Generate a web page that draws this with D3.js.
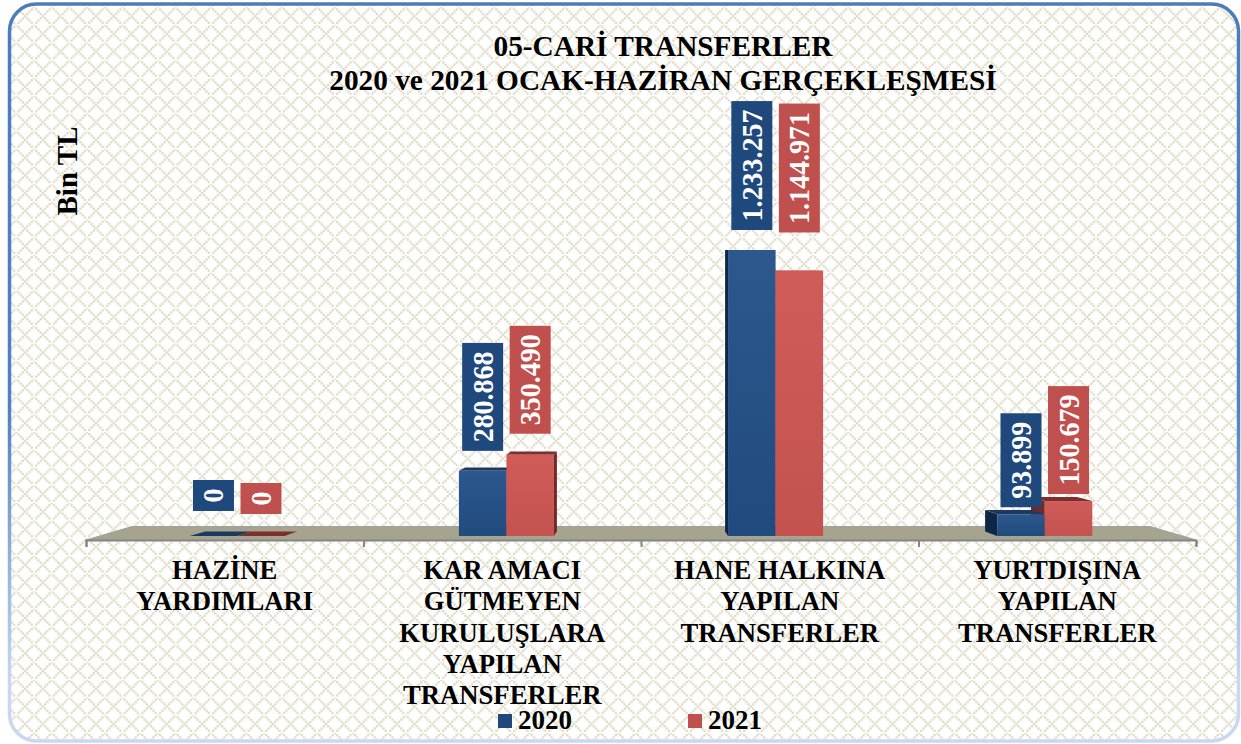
<!DOCTYPE html>
<html>
<head>
<meta charset="utf-8">
<script src="https://cdnjs.cloudflare.com/ajax/libs/d3/7.8.5/d3.min.js"></script>
<style>
html, body { margin: 0; padding: 0; background: #fff; overflow: hidden; }
svg { display: block; }
text { font-family: "Liberation Serif", "Times New Roman", serif; font-weight: bold; fill: #000; }
</style>
</head>
<body>
<script>
//Chart data
var categories = ["HAZİNE YARDIMLARI", "KAR AMACI GÜTMEYEN KURULUŞLARA YAPILAN TRANSFERLER", "HANE HALKINA YAPILAN TRANSFERLER", "YURTDIŞINA YAPILAN TRANSFERLER"];
var categoryLines = [
    ["HAZİNE", "YARDIMLARI"],
    ["KAR AMACI", "GÜTMEYEN", "KURULUŞLARA", "YAPILAN", "TRANSFERLER"],
    ["HANE HALKINA", "YAPILAN", "TRANSFERLER"],
    ["YURTDIŞINA", "YAPILAN", "TRANSFERLER"]
];
var seriesNames = ["2020", "2021"];
var values2020 = [0, 280868, 1233257, 93899];
var values2021 = [0, 350490, 1144971, 150679];
var titleLines = ["05-CARİ TRANSFERLER", "2020 ve 2021 OCAK-HAZİRAN GERÇEKLEŞMESİ"];
var axisTitle = "Bin TL";

//Hand placed gap between bar top and its label box, like the original
var labelGap2020 = [25, 20, 20, 7];
var labelGap2021 = [22, 21, 38, 7];

var width = 1241, height = 744;
var colors = {
    "2020": {top: "#1c3a60", side: "#0f2747", light: "#2d588d", dark: "#214b7f", box: "#1f497d"},
    "2021": {top: "#7d2f2d", side: "#6f2a28", light: "#cf5c58", dark: "#c4524f", box: "#c0504d"}
};

var svg = d3.select("body").append("svg")
    .attr("width", width)
    .attr("height", height);
var defs = svg.append("defs");

//Lattice background, stair stepped dots along both diagonals
var tile = 17.7;
var pattern = defs.append("pattern")
    .attr("id", "lattice")
    .attr("patternUnits", "userSpaceOnUse")
    .attr("x", 16.3).attr("y", 7.3)
    .attr("width", tile).attr("height", tile);
pattern.append("rect").attr("width", tile).attr("height", tile).attr("fill", "#fff");
d3.range(0, tile, tile / 8).forEach(function(p) {
    pattern.append("rect").attr("x", p - 1.1).attr("y", p - 1.1).attr("width", 2.2).attr("height", 2.2).attr("fill", "#dcd8c3");
    pattern.append("rect").attr("x", tile - p - 1.1).attr("y", p - 1.1).attr("width", 2.2).attr("height", 2.2).attr("fill", "#dcd8c3");
});

seriesNames.forEach(function(s) {
    var g = defs.append("linearGradient")
        .attr("id", "front" + s)
        .attr("x1", 0).attr("y1", 0).attr("x2", 0).attr("y2", 1);
    g.append("stop").attr("offset", "0%").attr("stop-color", colors[s].light);
    g.append("stop").attr("offset", "100%").attr("stop-color", colors[s].dark);
});

//Border fades from blue to pale blue at the bottom
var borderGrad = defs.append("linearGradient")
    .attr("id", "borderFade")
    .attr("x1", 0).attr("y1", 0).attr("x2", 0).attr("y2", 1);
borderGrad.append("stop").attr("offset", "0%").attr("stop-color", "#4a7ebb");
borderGrad.append("stop").attr("offset", "55%").attr("stop-color", "#4f82be");
borderGrad.append("stop").attr("offset", "92%").attr("stop-color", "#c6d9f1");

svg.append("rect")
    .attr("x", 9.5).attr("y", 4)
    .attr("width", 1229).attr("height", 737)
    .attr("rx", 27)
    .attr("fill", "url(#lattice)")
    .attr("stroke", "url(#borderFade)")
    .attr("stroke-width", 3.5);

//Scales. Front of the floor runs 86 to 1196, the rest is pushed back toward the vanishing point
var x0 = d3.scaleBand().domain(categories).range([86, 1196]);
var x1 = d3.scaleBand().domain(seriesNames).range([0, 98]);
var y = d3.scaleLinear().domain([0, d3.max(values2020)]).range([536, 250]);

var vanishX = 641, horizonY = 250;
function px(x, k) { return vanishX + (x - vanishX) * k; }
function backY(v) { return horizonY + (v - horizonY) * (1 - 4.5 / 286); }
var kFront = 0.97, kBack = 0.937;

//Floor
var floorBack = 0.917;
svg.append("polygon")
    .attr("points", [
        [px(86, floorBack), 526.5], [px(1196, floorBack), 526.5], [1196, 540], [86, 540]
    ].join(" "))
    .attr("fill", "#a6a48f")
    .attr("stroke", "#a0a0a0")
    .attr("stroke-width", 1);

//Axis with tick marks between the categories
var axisScale = d3.scaleLinear().domain([0, categories.length]).range([86, 1196]);
var axis = d3.axisBottom(axisScale).ticks(categories.length).tickSize(7).tickFormat("");
var axisG = svg.append("g").attr("transform", "translate(0,540)").call(axis);
axisG.selectAll("path, line").attr("stroke", "#868686").attr("stroke-width", 2);

//Bars
var rows = [];
categories.forEach(function(c, i) {
    rows.push({cat: c, i: i, s: "2020", v: values2020[i], gap: labelGap2020[i]});
    rows.push({cat: c, i: i, s: "2021", v: values2021[i], gap: labelGap2021[i]});
});
rows.forEach(function(d) {
    var l = x0(d.cat) + (x0.bandwidth() - x1.step() * 2) / 2 + x1(d.s);
    var r = l + x1.bandwidth();
    d.fl = px(l, kFront); d.fr = px(r, kFront);
    d.bl = px(l, kBack); d.br = px(r, kBack);
    d.y = y(d.v);
});

//Depth faces first, farthest from the vanishing point at the back
var depthRows = rows.slice().sort(function(a, b) {
    return Math.abs(b.fl + b.fr - 2 * vanishX) - Math.abs(a.fl + a.fr - 2 * vanishX);
});
var depth = svg.append("g").selectAll("g")
    .data(depthRows)
    .enter().append("g");
depth.append("polygon")
    .attr("fill", function(d) { return colors[d.s].side; })
    .attr("points", function(d) {
        var by = y(0);
        if (d.bl < d.fl) return [[d.fl, d.y], [d.bl, backY(d.y)], [d.bl, backY(by)], [d.fl, by]].join(" ");
        return [[d.fr, d.y], [d.br, backY(d.y)], [d.br, backY(by)], [d.fr, by]].join(" ");
    });
depth.append("polygon")
    .attr("fill", function(d) { return colors[d.s].top; })
    .attr("points", function(d) {
        return [[d.fl, d.y], [d.bl, backY(d.y)], [d.br, backY(d.y)], [d.fr, d.y]].join(" ");
    });

svg.append("g").selectAll("rect")
    .data(rows)
    .enter().append("rect")
    .attr("x", function(d) { return d.fl; })
    .attr("y", function(d) { return d.y; })
    .attr("width", function(d) { return d.fr - d.fl; })
    .attr("height", function(d) { return y(0) - d.y; })
    .attr("fill", function(d) { return "url(#front" + d.s + ")"; });

//Value labels in boxes, rotated
var fmt = d3.format(",");
var labels = svg.append("g").selectAll("g")
    .data(rows)
    .enter().append("g")
    .attr("transform", function(d) {
        return "translate(" + (d.fl + d.fr) / 2 + "," + (d.y - d.gap) + ")";
    });
var labelRects = labels.append("rect")
    .attr("x", -20.5)
    .attr("width", 41)
    .attr("fill", function(d) { return colors[d.s].box; });
var labelTexts = labels.append("text")
    .attr("transform", "rotate(-90) translate(8.5,10) scale(1,1.08)")
    .attr("font-size", 28)
    .style("fill", "#fff")
    .text(function(d) { return fmt(d.v).replace(/,/g, "."); });
labelRects.each(function(d, i) {
    var h = labelTexts.nodes()[i].getComputedTextLength() + 17;
    d3.select(this).attr("y", -h).attr("height", h);
});

//Category labels
var catLabels = svg.append("g").selectAll("text")
    .data(categoryLines)
    .enter().append("text")
    .attr("text-anchor", "middle")
    .attr("font-size", 26.7)
    .attr("y", 579);
catLabels.selectAll("tspan")
    .data(function(d, i) { return d.map(function(t) { return {t: t, x: x0(categories[i]) + x0.bandwidth() / 2}; }); })
    .enter().append("tspan")
    .attr("x", function(d) { return d.x; })
    .attr("dy", function(d, i) { return i ? 31.3 : 0; })
    .text(function(d) { return d.t; });

//Title
svg.append("g").selectAll("text")
    .data(titleLines)
    .enter().append("text")
    .attr("text-anchor", "middle")
    .attr("x", 663)
    .attr("y", function(d, i) { return 56 + i * 34; })
    .attr("font-size", 29.3)
    .text(function(d) { return d; });

svg.append("text")
    .attr("transform", "translate(77,171) rotate(-90)")
    .attr("text-anchor", "middle")
    .attr("font-size", 29)
    .text(axisTitle);

//Legend
var legendX = d3.scaleOrdinal().domain(seriesNames).range([498, 688]);
var legend = svg.append("g").selectAll("g")
    .data(seriesNames)
    .enter().append("g")
    .attr("transform", function(d) { return "translate(" + legendX(d) + ",714)"; });
legend.append("rect")
    .attr("width", 14).attr("height", 14)
    .attr("fill", function(d) { return colors[d].box; });
legend.append("text")
    .attr("x", 20).attr("y", 15)
    .attr("font-size", 27)
    .text(function(d) { return d; });
</script>
</body>
</html>
